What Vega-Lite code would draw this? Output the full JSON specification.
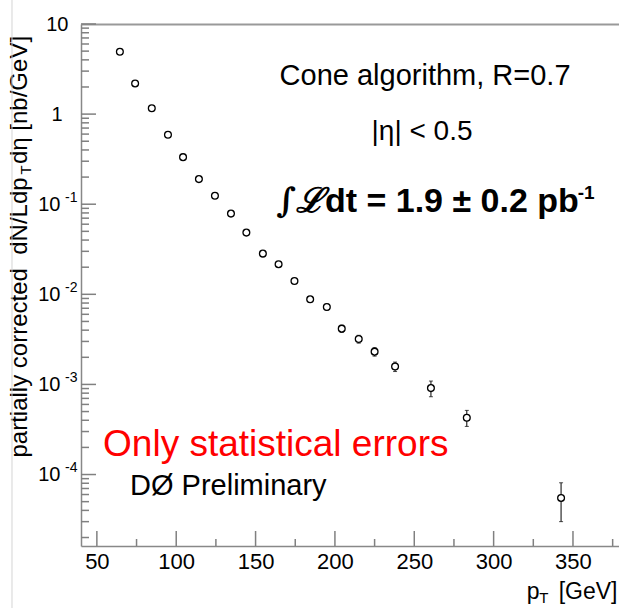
{
  "$schema": "https://vega.github.io/schema/vega-lite/v6.json",
  "width": 538,
  "height": 522,
  "autosize": {"type": "none"},
  "padding": {"left": 81, "top": 24, "right": 0, "bottom": 62},
  "background": "white",
  "config": {
    "view": {"stroke": null},
    "font": "Liberation Sans",
    "axis": {"labelColor": "#000", "titleColor": "#000", "labelFont": "Liberation Sans", "titleFont": "Liberation Sans", "grid": false}
  },
  "datasets": {
    "jets": [
      {"pt": 64.5, "xs": 4.92, "lo": 4.88, "hi": 4.96},
      {"pt": 74.1, "xs": 2.19, "lo": 2.17, "hi": 2.21},
      {"pt": 84.6, "xs": 1.16, "lo": 1.15, "hi": 1.17},
      {"pt": 94.8, "xs": 0.59, "lo": 0.583, "hi": 0.597},
      {"pt": 104.3, "xs": 0.333, "lo": 0.328, "hi": 0.338},
      {"pt": 114.3, "xs": 0.19, "lo": 0.186, "hi": 0.194},
      {"pt": 124.4, "xs": 0.124, "lo": 0.121, "hi": 0.127},
      {"pt": 134.5, "xs": 0.0787, "lo": 0.0765, "hi": 0.0809},
      {"pt": 144.2, "xs": 0.0484, "lo": 0.0468, "hi": 0.05},
      {"pt": 154.6, "xs": 0.0283, "lo": 0.0272, "hi": 0.0294},
      {"pt": 164.5, "xs": 0.0216, "lo": 0.0206, "hi": 0.0226},
      {"pt": 174.5, "xs": 0.01406, "lo": 0.0133, "hi": 0.0148},
      {"pt": 184.4, "xs": 0.0088, "lo": 0.0082, "hi": 0.0094},
      {"pt": 194.9, "xs": 0.00723, "lo": 0.0067, "hi": 0.0078},
      {"pt": 204.3, "xs": 0.00416, "lo": 0.00378, "hi": 0.00454},
      {"pt": 215.0, "xs": 0.00319, "lo": 0.00287, "hi": 0.00351},
      {"pt": 225.0, "xs": 0.00231, "lo": 0.00206, "hi": 0.00256},
      {"pt": 237.9, "xs": 0.00158, "lo": 0.00139, "hi": 0.00177},
      {"pt": 260.5, "xs": 0.00091, "lo": 0.00073, "hi": 0.00109},
      {"pt": 283.1, "xs": 0.000427, "lo": 0.000342, "hi": 0.000515},
      {"pt": 342.5, "xs": 0.000055, "lo": 0.00003, "hi": 0.000081}
    ],
    "yMajor": [{"v": 0.0001}, {"v": 0.001}, {"v": 0.01}, {"v": 0.1}, {"v": 1}, {"v": 10}],
    "yMinor": [
      {"v": 0.00002}, {"v": 0.00003}, {"v": 0.00004}, {"v": 0.00005}, {"v": 0.00006}, {"v": 0.00007}, {"v": 0.00008}, {"v": 0.00009},
      {"v": 0.0002}, {"v": 0.0003}, {"v": 0.0004}, {"v": 0.0005}, {"v": 0.0006}, {"v": 0.0007}, {"v": 0.0008}, {"v": 0.0009},
      {"v": 0.002}, {"v": 0.003}, {"v": 0.004}, {"v": 0.005}, {"v": 0.006}, {"v": 0.007}, {"v": 0.008}, {"v": 0.009},
      {"v": 0.02}, {"v": 0.03}, {"v": 0.04}, {"v": 0.05}, {"v": 0.06}, {"v": 0.07}, {"v": 0.08}, {"v": 0.09},
      {"v": 0.2}, {"v": 0.3}, {"v": 0.4}, {"v": 0.5}, {"v": 0.6}, {"v": 0.7}, {"v": 0.8}, {"v": 0.9},
      {"v": 2}, {"v": 3}, {"v": 4}, {"v": 5}, {"v": 6}, {"v": 7}, {"v": 8}, {"v": 9}
    ],
    "xMajor": [{"v": 50}, {"v": 100}, {"v": 150}, {"v": 200}, {"v": 250}, {"v": 300}, {"v": 350}],
    "xMinor": [{"v": 75}, {"v": 125}, {"v": 175}, {"v": 225}, {"v": 275}, {"v": 325}, {"v": 375}]
  },
  "data": {"name": "jets"},
  "resolve": {"axis": {"x": "independent", "y": "independent"}},
  "layer": [
    {
      "mark": {"type": "errorbar", "color": "#000", "ticks": {"size": 4, "thickness": 1}, "rule": {"strokeWidth": 1}},
      "encoding": {
        "x": {
          "field": "pt", "type": "quantitative",
          "scale": {"domain": [40, 379], "nice": false, "zero": false},
          "axis": {
            "orient": "bottom",
            "values": [50, 100, 150, 200, 250, 300, 350],
            "format": "d",
            "labelFontSize": 22,
            "labelPadding": 5,
            "labelFlush": false,
            "labelOverlap": false,
            "ticks": false,
            "domainColor": "#888",
            "domainWidth": 1.5,
            "title": "p\u00a0\u00a0\u00a0[GeV]",
            "titleFontSize": 23,
            "titleFontWeight": "normal",
            "titleAnchor": "end",
            "titleAlign": "right",
            "titleBaseline": "alphabetic",
            "titleX": 536,
            "titleY": 52
          }
        },
        "y": {
          "field": "lo", "type": "quantitative",
          "scale": {"type": "log", "domain": [0.0000161, 10], "nice": false},
          "axis": {
            "orient": "left",
            "values": [0.0001, 0.001, 0.01, 0.1, 1, 10],
            "labelExpr": "datum.value > 5 ? '10' : datum.value > 0.5 ? '1' : '10'",
            "labelFontSize": 20,
            "labelPadding": {"condition": [{"test": "datum.value > 5", "value": 13}, {"test": "datum.value > 0.5", "value": 19}], "value": 21},
            "labelOverlap": false,
            "labelBaseline": "middle",
            "ticks": false,
            "domainColor": "#888",
            "domainWidth": 1.5,
            "title": "partially corrected\u00a0\u00a0dN/Ldp\u00a0\u00a0dη [nb/GeV]",
            "titleFontSize": 24,
            "titleFontWeight": "normal",
            "titleAngle": 270,
            "titleAlign": "left",
            "titleBaseline": "alphabetic",
            "titleX": -55,
            "titleY": 433
          }
        },
        "y2": {"field": "hi"}
      }
    },
    {
      "mark": {"type": "point", "shape": "circle", "filled": true, "fill": "white", "stroke": "#000", "strokeWidth": 1.3, "size": 46, "opacity": 1},
      "encoding": {
        "x": {"field": "pt", "type": "quantitative", "axis": null},
        "y": {"field": "xs", "type": "quantitative", "axis": null}
      }
    },
    {
      "mark": {"type": "point", "opacity": 0},
      "encoding": {
        "x": {
          "field": "pt", "type": "quantitative",
          "axis": {"orient": "top", "labels": false, "ticks": false, "domain": true, "domainColor": "#999", "domainWidth": 2, "title": null}
        },
        "y": {
          "field": "xs", "type": "quantitative",
          "axis": {
            "orient": "left",
            "values": [0.0001, 0.001, 0.01, 0.1],
            "labelExpr": "'-' + round(-log(datum.value) / LN10)",
            "labelFontSize": 14,
            "labelPadding": 4,
            "labelOffset": -7,
            "labelOverlap": false,
            "labelBaseline": "middle",
            "ticks": false,
            "domain": false,
            "title": null
          }
        }
      }
    },
    {
      "data": {"name": "yMajor"},
      "mark": {"type": "rule", "color": "#808080", "strokeWidth": 1.5},
      "encoding": {
        "y": {"field": "v", "type": "quantitative", "axis": null},
        "x": {"datum": 40, "type": "quantitative", "axis": null},
        "x2": {"datum": 49.45}
      }
    },
    {
      "data": {"name": "yMinor"},
      "mark": {"type": "rule", "color": "#808080", "strokeWidth": 1.5},
      "encoding": {
        "y": {"field": "v", "type": "quantitative", "axis": null},
        "x": {"datum": 40, "type": "quantitative", "axis": null},
        "x2": {"datum": 45.04}
      }
    },
    {
      "data": {"name": "xMajor"},
      "mark": {"type": "rule", "color": "#808080", "strokeWidth": 1.5},
      "encoding": {
        "x": {"field": "v", "type": "quantitative", "axis": null},
        "y": {"datum": 0.0000161, "type": "quantitative", "axis": null},
        "y2": {"datum": 0.00002362}
      }
    },
    {
      "data": {"name": "xMinor"},
      "mark": {"type": "rule", "color": "#808080", "strokeWidth": 1.5},
      "encoding": {
        "x": {"field": "v", "type": "quantitative", "axis": null},
        "y": {"datum": 0.0000161, "type": "quantitative", "axis": null},
        "y2": {"datum": 0.00001925}
      }
    },
    {
      "data": {"values": [{}]},
      "mark": {"type": "rule", "color": "#d4d4d4", "strokeWidth": 1},
      "encoding": {
        "x": {"datum": -3.48, "type": "quantitative", "axis": null},
        "y": {"datum": 18.47, "type": "quantitative", "axis": null},
        "y2": {"datum": 0.0000033}
      }
    },
    {
      "data": {"values": [{}]},
      "mark": {"type": "text", "text": "T", "font": "Liberation Sans", "fontSize": 15, "angle": 270, "align": "center", "baseline": "alphabetic", "color": "#000"},
      "encoding": {
        "x": {"datum": 8.5, "type": "quantitative", "axis": null},
        "y": {"datum": 0.2397, "type": "quantitative", "axis": null}
      }
    },
    {
      "data": {"values": [{}]},
      "mark": {"type": "text", "text": "T", "font": "Liberation Sans", "fontSize": 15, "align": "center", "baseline": "alphabetic", "color": "#000"},
      "encoding": {
        "x": {"datum": 331.7, "type": "quantitative", "axis": null},
        "y": {"datum": 0.00000375, "type": "quantitative", "axis": null}
      }
    },
    {
      "data": {"values": [{}]},
      "mark": {"type": "text", "text": "Cone algorithm, R=0.7", "font": "Liberation Sans", "fontSize": 29, "align": "center", "baseline": "alphabetic", "color": "#000"},
      "encoding": {
        "x": {"datum": 256.8, "type": "quantitative", "axis": null},
        "y": {"datum": 2.1, "type": "quantitative", "axis": null}
      }
    },
    {
      "data": {"values": [{}]},
      "mark": {"type": "text", "text": "|η| < 0.5", "font": "Liberation Sans", "fontSize": 28, "align": "center", "baseline": "alphabetic", "color": "#000"},
      "encoding": {
        "x": {"datum": 254.9, "type": "quantitative", "axis": null},
        "y": {"datum": 0.516, "type": "quantitative", "axis": null}
      }
    },
    {
      "data": {"values": [{}]},
      "mark": {"type": "text", "text": "∫ℒ", "font": "DejaVu Serif", "fontSize": 34, "fontStyle": "italic", "fontWeight": "bold", "align": "right", "baseline": "alphabetic", "color": "#000"},
      "encoding": {
        "x": {"datum": 193.1, "type": "quantitative", "axis": null},
        "y": {"datum": 0.0819, "type": "quantitative", "axis": null}
      }
    },
    {
      "data": {"values": [{}]},
      "mark": {"type": "text", "text": "dt = 1.9 ± 0.2 pb", "font": "Liberation Sans", "fontSize": 34, "fontWeight": "bold", "align": "left", "baseline": "alphabetic", "color": "#000"},
      "encoding": {
        "x": {"datum": 193.7, "type": "quantitative", "axis": null},
        "y": {"datum": 0.0819, "type": "quantitative", "axis": null}
      }
    },
    {
      "data": {"values": [{}]},
      "mark": {"type": "text", "text": "-1", "font": "Liberation Sans", "fontSize": 19, "fontWeight": "bold", "align": "left", "baseline": "alphabetic", "color": "#000"},
      "encoding": {
        "x": {"datum": 353.0, "type": "quantitative", "axis": null},
        "y": {"datum": 0.1143, "type": "quantitative", "axis": null}
      }
    },
    {
      "data": {"values": [{}]},
      "mark": {"type": "text", "text": "Only statistical errors", "font": "Liberation Sans", "fontSize": 37, "align": "left", "baseline": "alphabetic", "color": "#ff0000"},
      "encoding": {
        "x": {"datum": 53.9, "type": "quantitative", "axis": null},
        "y": {"datum": 0.00016, "type": "quantitative", "axis": null}
      }
    },
    {
      "data": {"values": [{}]},
      "mark": {"type": "text", "text": "DØ Preliminary", "font": "Liberation Sans", "fontSize": 29, "align": "left", "baseline": "alphabetic", "color": "#000"},
      "encoding": {
        "x": {"datum": 70.9, "type": "quantitative", "axis": null},
        "y": {"datum": 0.0000592, "type": "quantitative", "axis": null}
      }
    }
  ]
}
